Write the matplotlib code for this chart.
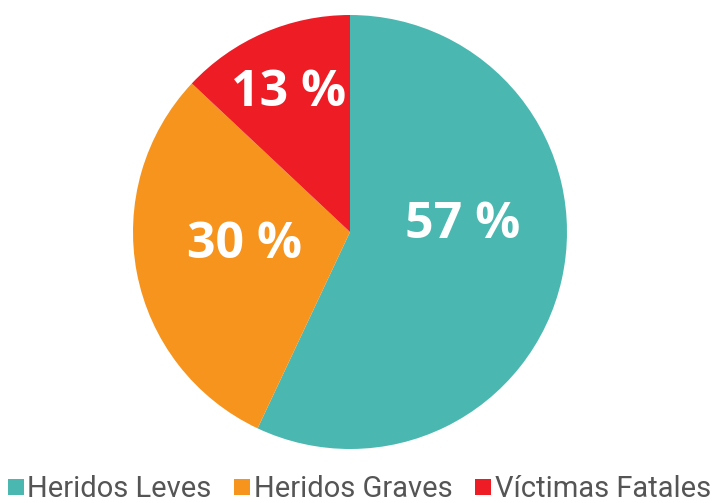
import matplotlib
matplotlib.use("Agg")
import matplotlib.pyplot as plt
from matplotlib.lines import Line2D
import numpy as np

categories = ["Heridos Leves", "Heridos Graves", "Víctimas Fatales"]
values = [57, 30, 13]
labels = ["57 %", "30 %", "13 %"]
colors = ["#4AB8B1", "#F7941D", "#EE1C25"]
label_dist = [0.52, 0.49, 0.70]
label_angle_shift = [16.0, -4.0, 0.5]

W, H = 719, 503
fig = plt.figure(figsize=(W / 100, H / 100), dpi=100)
cx, cy, r = 350, 232, 217
ax = fig.add_axes([(cx - r) / W, (H - cy - r) / H, 2 * r / W, 2 * r / H])
wedges, _ = ax.pie(values, colors=colors, startangle=90, counterclock=False,
                   radius=1.0, wedgeprops=dict(linewidth=0))
ax.set_xlim(-1, 1)
ax.set_ylim(-1, 1)
ax.set_aspect("auto")
ax.axis("off")

for w, lab, d, s in zip(wedges, labels, label_dist, label_angle_shift):
    ang = np.deg2rad((w.theta1 + w.theta2) / 2 + s)
    ax.text(d * np.cos(ang), d * np.sin(ang), lab, ha="center", va="center",
            color="white", fontsize=36, fontweight="bold", family="Open Sans")

handles = [Line2D([0], [0], marker="s", linestyle="none", markersize=11.5,
                  markerfacecolor=c, markeredgewidth=0) for c in colors]
leg = fig.legend(handles, categories, loc="lower center", bbox_to_anchor=(0.5, 0.0),
                 ncol=3, frameon=False, handlelength=0.5, handletextpad=0.15,
                 columnspacing=0.8, borderpad=0.0, borderaxespad=0.0,
                 prop=dict(family="Roboto", size=21))
for t in leg.get_texts():
    t.set_color("#555555")

fig.savefig("out.png", dpi=100)
